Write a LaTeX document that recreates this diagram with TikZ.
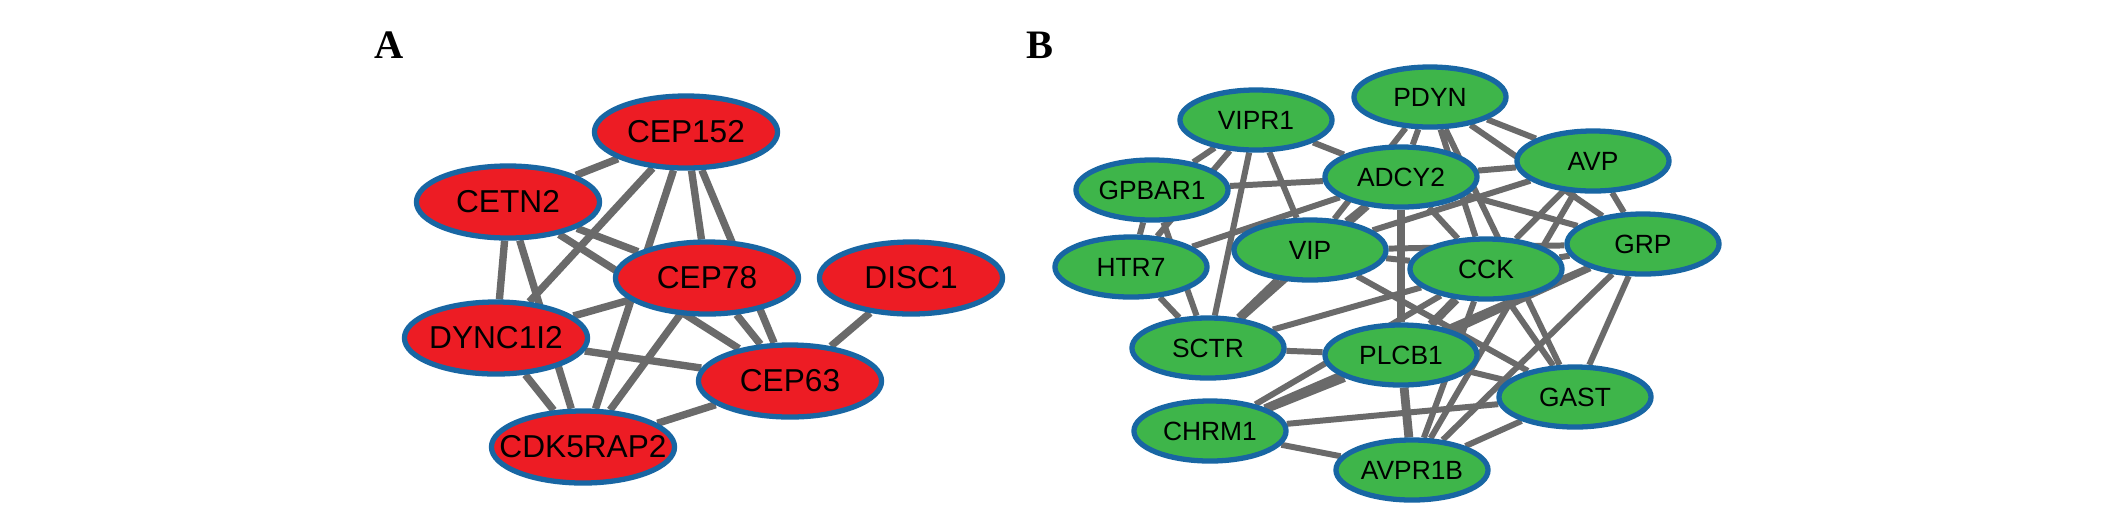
\documentclass[tikz,border=0pt]{standalone}
\usepackage{fontspec}
\setmainfont{Liberation Sans}
\newfontfamily\panelfont{Liberation Serif}
\usepackage{tikz}
\usetikzlibrary{shapes.geometric,backgrounds}
\definecolor{rimblue}{RGB}{24,102,163}
\definecolor{genered}{RGB}{237,28,36}
\definecolor{genegreen}{RGB}{62,181,74}
\definecolor{edgegray}{RGB}{106,106,106}
\tikzset{
  gene/.style={draw=rimblue, line width=1.5pt, ellipse, inner sep=0pt,
    execute at begin node={\hbox to 0pt\bgroup\hss},
    execute at end node={\hss\egroup}},
  genea/.style={gene, fill=genered, minimum width=1.83cm, minimum height=0.72cm,
    font=\fontsize{9}{10}\selectfont},
  geneb/.style={gene, fill=genegreen, minimum width=1.52cm, minimum height=0.60cm,
    font=\fontsize{7.5}{9}\selectfont},
  linka/.style={draw=edgegray, line width=2.1pt},
  linkb/.style={draw=edgegray, line width=1.7pt},
  linkbb/.style={draw=edgegray, line width=2.5pt},
  panel/.style={font=\panelfont\bfseries\fontsize{11.5}{12}\selectfont, inner sep=0pt}
}
\begin{document}
\begin{tikzpicture}[x=0.01cm, y=-0.01cm]
    \useasboundingbox (0,0) rectangle (2126,511);
    % panel labels
    \node[panel] (labela) at (389,45) {A};
    \node[panel] (labelb) at (1040,45) {B};
    % A: centrosome genes
    \node[genea] (cep152) at (686,132) {CEP152};
    \node[genea] (cetn2) at (508,202) {CETN2};
    \node[genea] (cep78) at (707,278) {CEP78};
    \node[genea] (disc1) at (911,278) {DISC1};
    \node[genea] (dync1i2) at (496,338) {DYNC1I2};
    \node[genea] (cep63) at (790,381) {CEP63};
    \node[genea] (cdk5rap2) at (583,447) {CDK5RAP2};
    % B: neuropeptide genes
    \node[geneb] (pdyn) at (1430,97) {PDYN};
    \node[geneb] (vipr1) at (1256,120) {VIPR1};
    \node[geneb] (gpbar1) at (1152,190) {GPBAR1};
    \node[geneb] (adcy2) at (1401,177) {ADCY2};
    \node[geneb] (avp) at (1593,161) {AVP};
    \node[geneb] (htr7) at (1131,267) {HTR7};
    \node[geneb] (vip) at (1310,250) {VIP};
    \node[geneb] (cck) at (1486,269) {CCK};
    \node[geneb] (grp) at (1643,244) {GRP};
    \node[geneb] (sctr) at (1208,348) {SCTR};
    \node[geneb] (plcb1) at (1401,355) {PLCB1};
    \node[geneb] (gast) at (1575,397) {GAST};
    \node[geneb] (chrm1) at (1210,431) {CHRM1};
    \node[geneb] (avpr1b) at (1412,470) {AVPR1B};
    \begin{scope}[on background layer]
        \fill[white] (0,0) rectangle (2126,511);
        % edges of A
        \draw[linka] (cep152) -- (cetn2) (cep152) -- (dync1i2) (cep152) -- (cdk5rap2)
            (cep152) -- (cep78) (cep152) -- (cep63);
        \draw[linka] (cetn2) -- (cep78) (cetn2) -- (cep63) (cetn2) -- (dync1i2) (cetn2) -- (cdk5rap2);
        \draw[linka] (dync1i2) -- (cep78) (dync1i2) -- (cep63) (dync1i2) -- (cdk5rap2);
        \draw[linka] (cep78) -- (cdk5rap2) (cep78) -- (cep63);
        \draw[linka] (cep63) -- (cdk5rap2) (cep63) -- (disc1);
        % edges of B
        \draw[linkb] (vipr1) -- (gpbar1) (vipr1) -- (htr7) (vipr1) -- (sctr) (vipr1) -- (vip) (vipr1) -- (adcy2);
        \draw[linkb] (gpbar1) -- (adcy2) (gpbar1) -- (htr7) (gpbar1) -- (sctr);
        \draw[linkb] (htr7) -- (sctr) (htr7) -- (adcy2);
        \draw[linkb] (pdyn) -- (adcy2) (pdyn) -- (vip) (pdyn) -- (cck) (pdyn) -- (gast)
            (pdyn) -- (avp) (pdyn) -- (grp);
        \draw[linkb] (adcy2) -- (avp) (adcy2) -- (vip) (adcy2) -- (cck) (adcy2) -- (grp) (adcy2) -- (sctr);
        \draw[linkbb] (adcy2) -- (plcb1);
        \draw[linkb] (avp) -- (vip) (avp) -- (grp) (avp) -- (cck) (avp) -- (avpr1b);
        \draw[linkbb] (vip) -- (sctr);
        \draw[linkb] (vip) -- (cck) (vip) -- (grp) (vip) -- (gast);
        \draw[linkb] (cck) -- (grp) (cck) -- (sctr) (cck) -- (chrm1) (cck) -- (gast) (cck) -- (avpr1b);
        \draw[linkbb] (cck) -- (plcb1);
        \draw[linkb] (grp) -- (gast) (grp) -- (avpr1b) (grp) -- (plcb1) (grp) -- (chrm1);
        \draw[linkb] (sctr) -- (plcb1) (plcb1) -- (gast);
        \draw[linkbb] (plcb1) -- (chrm1) (plcb1) -- (avpr1b);
        \draw[linkb] (gast) -- (chrm1) (gast) -- (avpr1b) (chrm1) -- (avpr1b);
    \end{scope}
\end{tikzpicture}
\end{document}
